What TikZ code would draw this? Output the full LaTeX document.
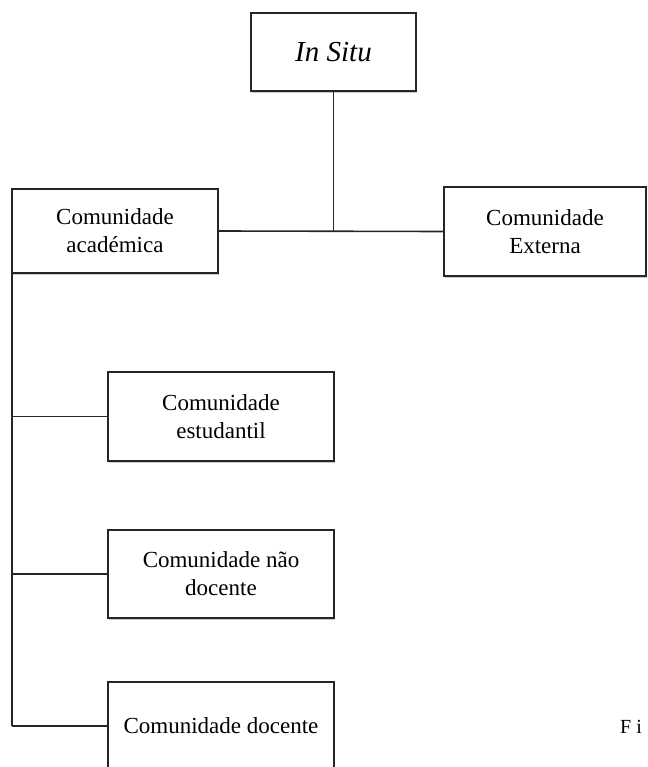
\documentclass[tikz,border=0pt]{standalone}
\usepackage{fontspec}
\setmainfont{Liberation Serif}
\usetikzlibrary{shadows}
\begin{document}
\begin{tikzpicture}[x=1pt,y=1pt,
  box/.style={draw=black!85, line width=1.5pt, fill=white, align=center,
    inner sep=0pt, font=\fontsize{23}{28}\selectfont,
    drop shadow={shadow xshift=0.6pt, shadow yshift=-1.6pt, opacity=0.35, fill=black!60}},
  link/.style={draw=black!85, line width=1.6pt}]
\useasboundingbox (0,0) rectangle (647,-767);
\clip (0,0) rectangle (647,-767);
\fill[white] (0,0) rectangle (647,-767);

\node[box, minimum width=165, minimum height=78, font=\fontsize{29}{32}\selectfont\itshape] (insitu) at (333.5,-52) {In Situ};
\node[box, minimum width=206, minimum height=84] (acad) at (115,-231) {Comunidade\\académica};
\node[box, minimum width=202, minimum height=89] (ext) at (545,-231.5) {Comunidade\\Externa};
\node[box, minimum width=226, minimum height=89] (est) at (221,-416.5) {Comunidade\\estudantil};
\node[box, minimum width=226, minimum height=88] (nd) at (221,-574) {Comunidade não\\docente};
\node[box, minimum width=226, minimum height=88] (doc) at (221,-726) {Comunidade docente};

\coordinate (j) at (insitu.south |- acad.east);
\coordinate (l0) at ([xshift=1pt]acad.south west);
\coordinate (l1) at (l0 |- est.west);
\coordinate (l2) at (l0 |- nd.west);
\coordinate (l3) at (l0 |- doc.west);

\draw[link] (insitu.south) -- (j);
\draw[link] (acad.east) -- (ext.west);
\draw[link] (l0) -- (l3);
\draw[link] (l1) -- (est.west);
\draw[link] (l2) -- (nd.west);
\draw[link] (l3) -- (doc.west);

\node[anchor=base west, inner sep=0pt, font=\fontsize{20}{24}\selectfont] (fig) at (620,-733) {F i};
\end{tikzpicture}
\end{document}
